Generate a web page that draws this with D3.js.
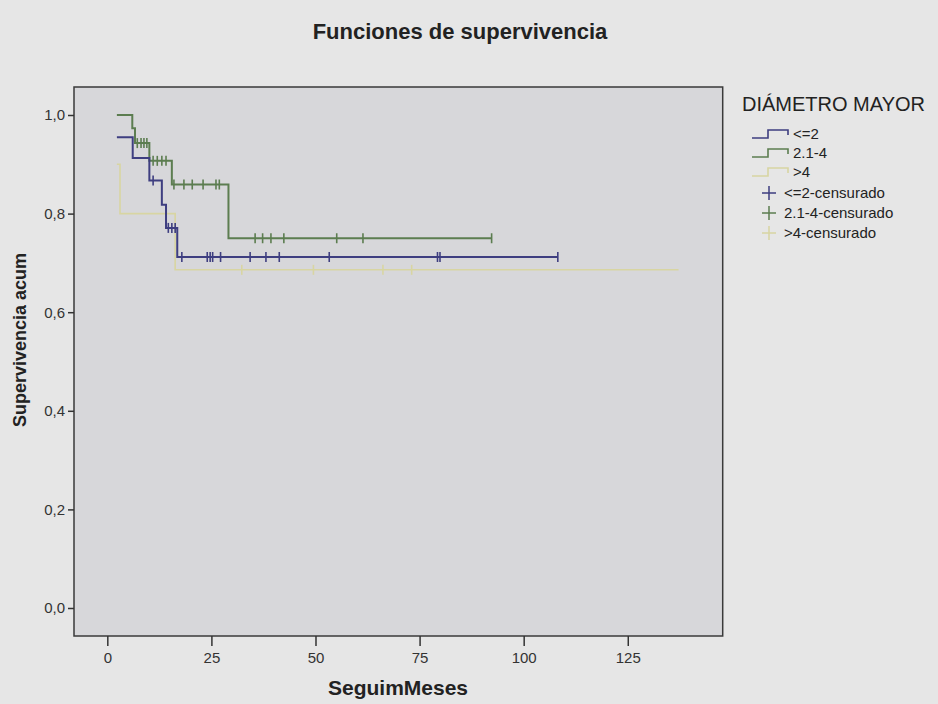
<!DOCTYPE html>
<html>
<head>
<meta charset="utf-8">
<script src="https://cdn.jsdelivr.net/npm/d3@7/dist/d3.min.js"></script>
<style>
  body { margin: 0; background: #e6e6e6; }
  svg { display: block; font-family: "Liberation Sans", Arial, sans-serif; }
</style>
</head>
<body>
<div id="chart"></div>
<script>
// grupos de la leyenda
var grupos = ["<=2", "2.1-4", ">4"];
var gruposCens = ["<=2-censurado", "2.1-4-censurado", ">4-censurado"];

// <=2 : tiempos de cambio y supervivencia
var tiempoMenor2 = [2.3, 6.1, 10.1, 13.1, 14.1, 16.8, 108.2];
var survMenor2 = [0.955, 0.913, 0.867, 0.818, 0.771, 0.712, 0.712];
var censMenor2 = [11.0, 14.65, 15.5, 16.3, 17.9, 24.0, 24.7, 25.3, 27.2, 34.3, 38.1, 41.3, 53.3, 79.3, 79.9, 108.2];

// 2.1-4
var tiempo2a4 = [2.3, 6.0, 6.65, 10.1, 15.5, 29.1, 92.3];
var surv2a4 = [1.0, 0.973, 0.943, 0.907, 0.859, 0.750, 0.750];
var cens2a4 = [7.2, 8.1, 8.8, 9.5, 11.0, 12.0, 13.1, 14.1, 16.0, 18.4, 20.4, 23.0, 26.1, 26.9, 35.5, 37.3, 39.3, 42.4, 55.1, 61.4, 92.3];

// >4
var tiempoMayor4 = [2.3, 3.05, 16.3, 137.2];
var survMayor4 = [0.9, 0.8, 0.686, 0.686];
var censMayor4 = [32.3, 49.5, 66.2, 73.1];

var xTicks = [0, 25, 50, 75, 100, 125];
var yTicks = [0, 0.2, 0.4, 0.6, 0.8, 1.0];

function init(){
    var w = 938;
    var h = 704;
    var colores = ["#3e3e80", "#5c7d50", "#d8d5a2"];
    var anchos = [2, 2, 1.6];

    var series = [
        {t: tiempoMenor2, s: survMenor2, c: censMenor2},
        {t: tiempo2a4, s: surv2a4, c: cens2a4},
        {t: tiempoMayor4, s: survMayor4, c: censMayor4}
    ];

    // area del grafico
    var left = 74, right = 722.7, top = 87, bottom = 636;

    var xScale = d3.scaleLinear()
                    .domain([-8, 147.8])
                    .range([left, right]);

    var yScale = d3.scaleLinear()
                    .domain([-0.0568, 1.0568])
                    .range([bottom, top]);

    var svg = d3.select('#chart')
                .append('svg')
                .attr('width', w)
                .attr('height', h);

    svg.append('rect')
        .attr('width', w)
        .attr('height', h)
        .attr('fill', '#e6e6e6');

    svg.append('rect')
        .attr('x', left)
        .attr('y', top)
        .attr('width', right - left)
        .attr('height', bottom - top)
        .attr('fill', '#d7d7da')
        .attr('stroke', '#3a3a3a')
        .attr('stroke-width', 1.5);

    // titulo
    svg.append('text')
        .attr('x', 460)
        .attr('y', 39)
        .attr('text-anchor', 'middle')
        .attr('font-size', '22px')
        .attr('font-weight', 'bold')
        .attr('fill', '#222')
        .text('Funciones de supervivencia');

    // ejes
    var fmt = function(d){ return d3.format('.1f')(d).replace('.', ','); };

    var xAxis = svg.append('g')
        .attr('transform', 'translate(0,' + bottom + ')')
        .call(d3.axisBottom(xScale).tickValues(xTicks).tickSize(10).tickPadding(6));

    var yAxis = svg.append('g')
        .attr('transform', 'translate(' + left + ',0)')
        .call(d3.axisLeft(yScale).tickValues(yTicks).tickFormat(fmt).tickSize(6).tickPadding(3));

    [xAxis, yAxis].forEach(function(ax){
        ax.select('.domain').remove();
        ax.selectAll('line').attr('stroke', '#333').attr('stroke-width', 1.5);
        ax.selectAll('text')
            .attr('font-family', '"Liberation Sans", Arial, sans-serif')
            .attr('font-size', '15px')
            .attr('fill', '#333');
    });

    svg.append('text')
        .attr('x', 398)
        .attr('y', 695)
        .attr('text-anchor', 'middle')
        .attr('font-size', '21px')
        .attr('font-weight', 'bold')
        .attr('fill', '#222')
        .text('SeguimMeses');

    svg.append('text')
        .attr('transform', 'translate(26,340) rotate(-90)')
        .attr('text-anchor', 'middle')
        .attr('font-size', '18px')
        .attr('font-weight', 'bold')
        .attr('fill', '#222')
        .text('Supervivencia acum');

    // curvas escalonadas
    var linea = d3.line()
                  .x(function(d){ return xScale(d[0]); })
                  .y(function(d){ return yScale(d[1]); })
                  .curve(d3.curveStepAfter);

    // dibujar de atras hacia adelante
    [2, 1, 0].forEach(function(i){
        var ser = series[i];
        var pts = ser.t.map(function(t, j){ return [t, ser.s[j]]; });

        svg.append('path')
            .datum(pts)
            .attr('d', linea)
            .attr('fill', 'none')
            .attr('stroke', colores[i])
            .attr('stroke-width', anchos[i]);

        // marcas de censura
        svg.selectAll('.cens' + i)
            .data(ser.c)
            .enter()
            .append('line')
            .attr('class', 'cens' + i)
            .attr('x1', function(d){ return xScale(d); })
            .attr('x2', function(d){ return xScale(d); })
            .attr('y1', function(d){
                var k = d3.bisectRight(ser.t, d) - 1;
                return yScale(ser.s[Math.max(k, 0)]) - 5;
            })
            .attr('y2', function(d){
                var k = d3.bisectRight(ser.t, d) - 1;
                return yScale(ser.s[Math.max(k, 0)]) + 5;
            })
            .attr('stroke', colores[i])
            .attr('stroke-width', 1.6);
    });

    // leyenda
    var lg = svg.append('g').attr('transform', 'translate(742,0)');

    lg.append('text')
        .attr('x', 0)
        .attr('y', 111)
        .attr('font-size', '20px')
        .attr('fill', '#222')
        .text('DIÁMETRO MAYOR');

    var filaY = [134, 153, 172, 193, 213, 233];

    grupos.forEach(function(g, i){
        var y = filaY[i];
        lg.append('path')
            .attr('d', 'M10,' + (y + 4) + 'H26V' + (y - 4) + 'H46V' + (y + 1))
            .attr('fill', 'none')
            .attr('stroke', colores[i])
            .attr('stroke-width', 1.6);
        lg.append('text')
            .attr('x', 51)
            .attr('y', y + 5)
            .attr('font-size', '15px')
            .attr('fill', '#222')
            .text(g);
    });

    gruposCens.forEach(function(g, i){
        var y = filaY[i + 3];
        lg.append('path')
            .attr('d', 'M20,' + y + 'H34M27,' + (y - 7) + 'V' + (y + 7))
            .attr('fill', 'none')
            .attr('stroke', colores[i])
            .attr('stroke-width', 1.5);
        lg.append('text')
            .attr('x', 42)
            .attr('y', y + 5)
            .attr('font-size', '15px')
            .attr('fill', '#222')
            .text(g);
    });
}

window.onload = init;
</script>
</body>
</html>
